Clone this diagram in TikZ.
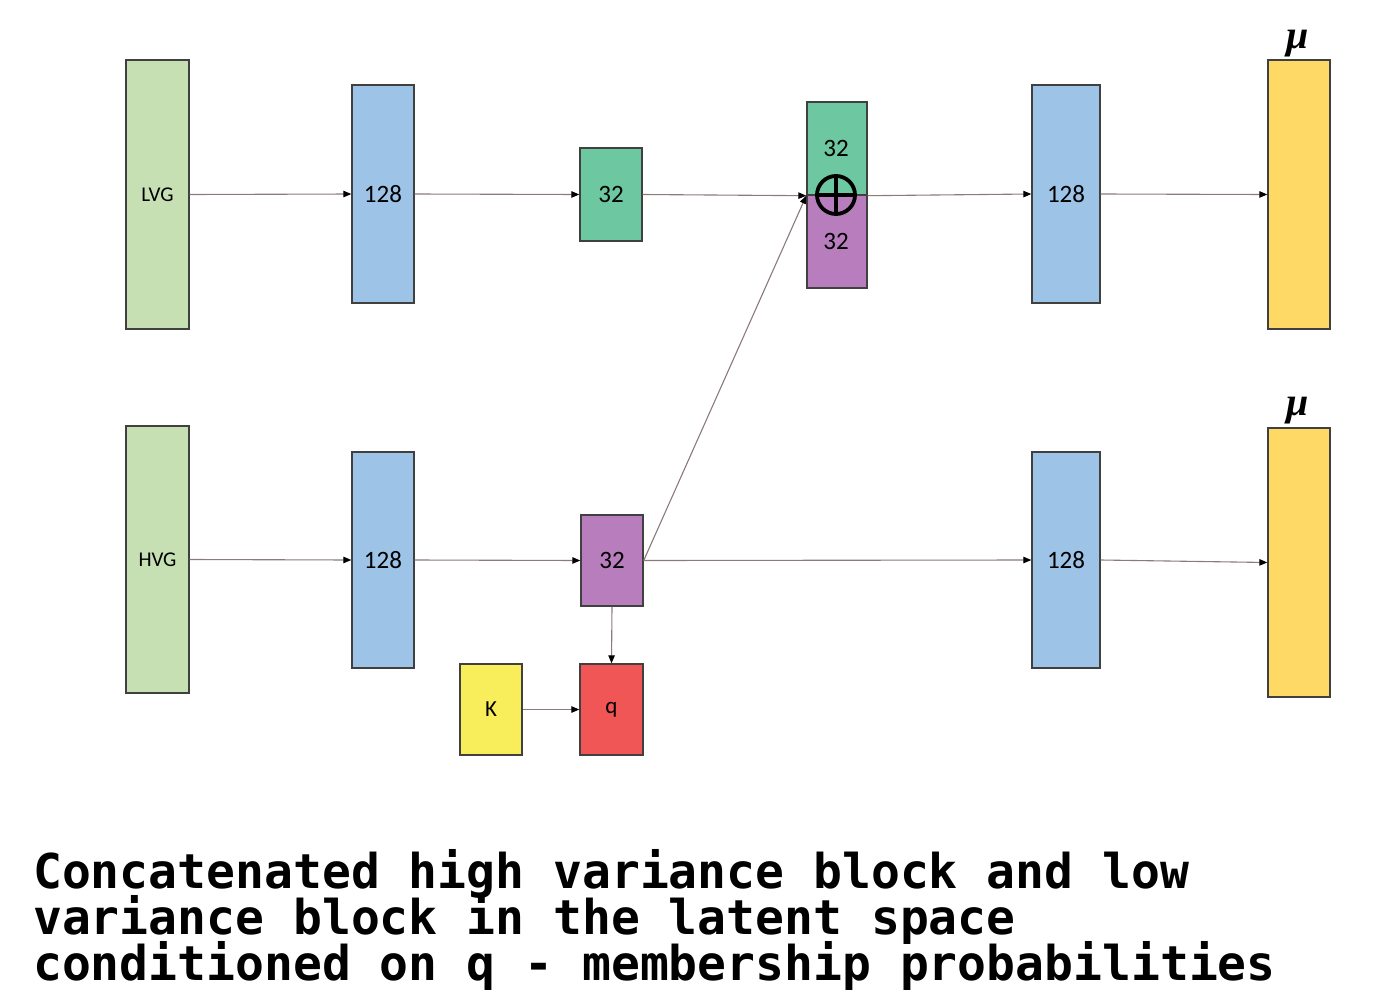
\documentclass[tikz,border=0pt]{standalone}
\usepackage{fontspec}
\setmainfont{Carlito}
\newfontfamily\capfont{DejaVu Sans Mono}
\newfontfamily\mufont{Liberation Serif}
\usetikzlibrary{arrows.meta}
\definecolor{lvgc}{HTML}{C6E0B4}
\definecolor{bluec}{HTML}{9DC3E6}
\definecolor{tealc}{HTML}{6DC7A0}
\definecolor{purpc}{HTML}{B77DBD}
\definecolor{redc}{HTML}{F05656}
\definecolor{kc}{HTML}{F8EE5C}
\definecolor{muc}{HTML}{FFD966}
\definecolor{edgec}{HTML}{404040}
\definecolor{linec}{RGB}{140,122,122}
\tikzset{
  blk/.style={draw=edgec, line width=1.4pt, inner sep=0pt, font=\fontsize{25}{29}\selectfont},
  conn/.style={draw=linec, line width=1.1pt, -{Triangle[length=8pt,width=6.5pt,color=black]}},
  captxt/.style={anchor=base west, inner sep=0pt, font=\capfont\bfseries\fontsize{48}{46}\selectfont},
  mulbl/.style={inner sep=0pt, font=\mufont\bfseries\itshape\fontsize{40}{44}\selectfont}
}
\begin{document}
\begin{tikzpicture}[x=1pt,y=-1pt]
\useasboundingbox[fill=white] (0,0) rectangle (1385,1001);
% left inputs
\node[blk, fill=lvgc, minimum width=63, minimum height=269, font=\fontsize{21}{25}\selectfont] (lvg) at (157.5,194.5) {LVG};
\node[blk, fill=lvgc, minimum width=63, minimum height=267, font=\fontsize{21}{25}\selectfont] (hvg) at (157.5,559.5) {HVG};
% encoder 128
\node[blk, fill=bluec, minimum width=62, minimum height=218] (e1) at (383,194) {128};
\node[blk, fill=bluec, minimum width=62, minimum height=216] (e2) at (383,560) {128};
% latent 32
\node[blk, fill=tealc, minimum width=62, minimum height=93] (g32) at (611,194.5) {32};
\node[blk, fill=purpc, minimum width=62, minimum height=91] (p32) at (612,560.5) {32};
% K and q
\node[blk, fill=kc, minimum width=62, minimum height=91, font=\fontsize{23}{27}\selectfont] (kb) at (491,709.5) {K};
\node[blk, fill=redc, minimum width=63, minimum height=91, font=\fontsize{23}{27}\selectfont] (qb) at (611.5,709.5) {q};
% concatenated block
\node[blk, fill=tealc, minimum width=60, minimum height=93] (catg) at (837,148.5) {};
\node[blk, fill=purpc, minimum width=60, minimum height=93] (catp) at (837,241.5) {};
\node[inner sep=0pt, font=\fontsize{25}{29}\selectfont] (catgl) at (836,148) {32};
\node[inner sep=0pt, font=\fontsize{25}{29}\selectfont] (catpl) at (836,241) {32};
% decoder 128
\node[blk, fill=bluec, minimum width=68, minimum height=218] (d1) at (1066,194) {128};
\node[blk, fill=bluec, minimum width=68, minimum height=216] (d2) at (1066,560) {128};
% outputs
\node[blk, fill=muc, minimum width=62, minimum height=269] (y1) at (1299,194.5) {};
\node[blk, fill=muc, minimum width=62, minimum height=269] (y2) at (1299,562.5) {};
\node[mulbl] (mu1) at (1298,44) {μ};
\node[mulbl] (mu2) at (1298,411) {μ};
% connectors
\coordinate (catin) at (catg.south west);
\path[conn] (lvg.east) -- (e1.west);
\path[conn] (e1.east) -- (g32.west);
\path[conn] (g32.east) -- (catin);
\path[conn] (p32.east) -- (catin);
\path[conn] (catg.south east) -- (d1.west);
\path[conn] (d1.east) -- (y1.west);
\path[conn] (hvg.east) -- (e2.west);
\path[conn] (e2.east) -- (p32.west);
\path[conn] (p32.east) -- (d2.west);
\path[conn] (d2.east) -- (y2.west);
\path[conn] (p32.south) -- (qb.north);
\path[conn] (kb.east) -- (qb.west);
% oplus
\node[draw=black, circle, line width=3.8pt, minimum size=38, inner sep=0pt] (op) at (836,195) {};
\draw[line width=3.8pt] (op.north) -- (op.south) (op.west) -- (op.east);
% caption
\node[captxt] (cap1) at (33,888) {Concatenated high variance block and low};
\node[captxt] (cap2) at (33,934) {variance block in the latent space};
\node[captxt] (cap3) at (33,980) {conditioned on q - membership probabilities};
\end{tikzpicture}
\end{document}
